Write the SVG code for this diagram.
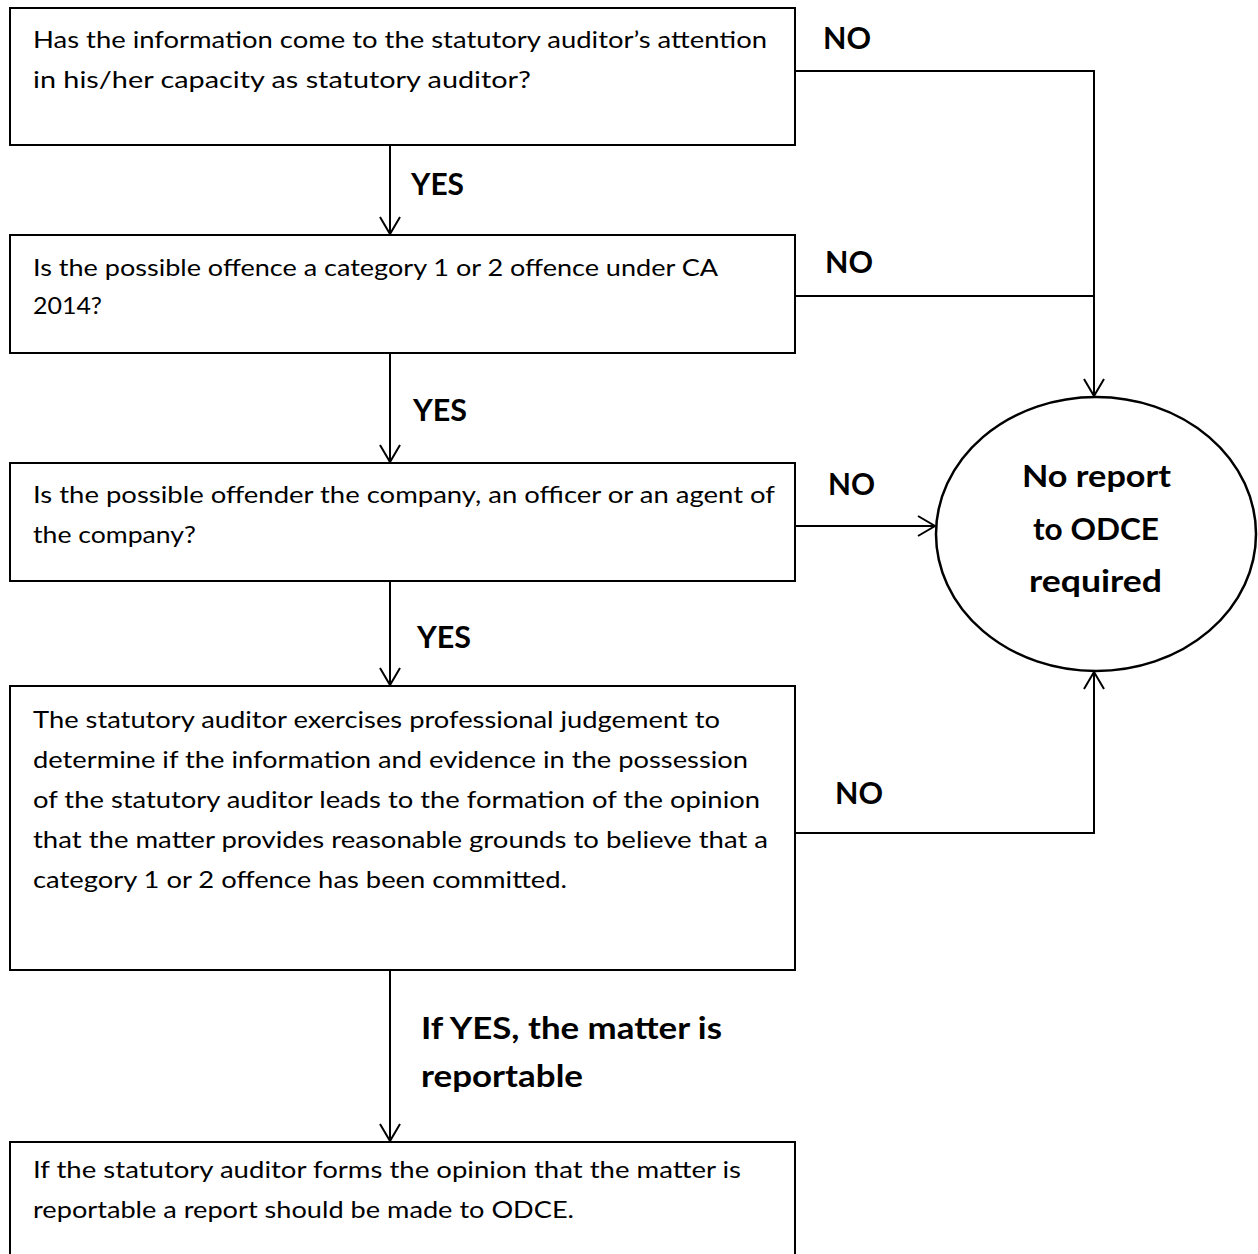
<svg xmlns="http://www.w3.org/2000/svg" width="1258" height="1254" viewBox="0 0 1258 1254">
<style>
.box{fill:#fff;stroke:#000;stroke-width:2}
.ell{fill:#fff;stroke:#000;stroke-width:2.5}
.t{font-family:Lato,"Liberation Sans",sans-serif;font-size:24px;fill:#000}
.b{font-family:Lato,"Liberation Sans",sans-serif;font-size:31px;font-weight:bold;fill:#000}
.c{fill:none;stroke:#000;stroke-width:2}
</style>
<defs>
<marker id="ah" markerWidth="24" markerHeight="24" refX="18" refY="11" orient="auto" markerUnits="userSpaceOnUse">
<path d="M1,1 L18,11 L1,21" fill="none" stroke="#000" stroke-width="2"/>
</marker>
</defs>
<rect width="1258" height="1254" fill="#fff"/>
<g id="connectors">
<path class="c" d="M390,145 V234" marker-end="url(#ah)"/>
<path class="c" d="M390,353 V462" marker-end="url(#ah)"/>
<path class="c" d="M390,581 V685" marker-end="url(#ah)"/>
<path class="c" d="M390,970 V1141" marker-end="url(#ah)"/>
<path class="c" d="M795,71 H1094 V396" marker-end="url(#ah)"/>
<path class="c" d="M795,296 H1094"/>
<path class="c" d="M795,526 H935" marker-end="url(#ah)"/>
<path class="c" d="M795,833 H1094 V672" marker-end="url(#ah)"/>
<text class="b" x="823" y="49" textLength="48" lengthAdjust="spacingAndGlyphs">NO</text>
<text class="b" x="825" y="273" textLength="48" lengthAdjust="spacingAndGlyphs">NO</text>
<text class="b" x="828" y="495" textLength="47" lengthAdjust="spacingAndGlyphs">NO</text>
<text class="b" x="835" y="804" textLength="48" lengthAdjust="spacingAndGlyphs">NO</text>
<text class="b" x="411" y="195" textLength="53" lengthAdjust="spacingAndGlyphs">YES</text>
<text class="b" x="413" y="421" textLength="54" lengthAdjust="spacingAndGlyphs">YES</text>
<text class="b" x="417" y="648" textLength="54" lengthAdjust="spacingAndGlyphs">YES</text>
<text class="b" x="421" y="1039" textLength="301" lengthAdjust="spacingAndGlyphs">If YES, the matter is</text>
<text class="b" x="421" y="1087" textLength="162" lengthAdjust="spacingAndGlyphs">reportable</text>
</g>
<g id="q1">
<rect class="box" x="10" y="8" width="785" height="137"/>
<text class="t" x="33" y="48" textLength="734" lengthAdjust="spacingAndGlyphs">Has the information come to the statutory auditor’s attention</text>
<text class="t" x="33" y="88" textLength="498" lengthAdjust="spacingAndGlyphs">in his/her capacity as statutory auditor?</text>
</g>
<g id="q2">
<rect class="box" x="10" y="235" width="785" height="118"/>
<text class="t" x="33" y="276" textLength="685" lengthAdjust="spacingAndGlyphs">Is the possible offence a category 1 or 2 offence under CA</text>
<text class="t" x="33" y="314" textLength="69" lengthAdjust="spacingAndGlyphs">2014?</text>
</g>
<g id="q3">
<rect class="box" x="10" y="463" width="785" height="118"/>
<text class="t" x="33" y="503" textLength="742" lengthAdjust="spacingAndGlyphs">Is the possible offender the company, an officer or an agent of</text>
<text class="t" x="33" y="543" textLength="163" lengthAdjust="spacingAndGlyphs">the company?</text>
</g>
<g id="q4">
<rect class="box" x="10" y="686" width="785" height="284"/>
<text class="t" x="33" y="728" textLength="687" lengthAdjust="spacingAndGlyphs">The statutory auditor exercises professional judgement to</text>
<text class="t" x="33" y="768" textLength="715" lengthAdjust="spacingAndGlyphs">determine if the information and evidence in the possession</text>
<text class="t" x="33" y="808" textLength="727" lengthAdjust="spacingAndGlyphs">of the statutory auditor leads to the formation of the opinion</text>
<text class="t" x="33" y="848" textLength="735" lengthAdjust="spacingAndGlyphs">that the matter provides reasonable grounds to believe that a</text>
<text class="t" x="33" y="888" textLength="534" lengthAdjust="spacingAndGlyphs">category 1 or 2 offence has been committed.</text>
</g>
<g id="result">
<rect class="box" x="10" y="1142" width="785" height="130"/>
<text class="t" x="33" y="1178" textLength="708" lengthAdjust="spacingAndGlyphs">If the statutory auditor forms the opinion that the matter is</text>
<text class="t" x="33" y="1218" textLength="541" lengthAdjust="spacingAndGlyphs">reportable a report should be made to ODCE.</text>
</g>
<g id="noreport">
<ellipse class="ell" cx="1096" cy="534" rx="160" ry="137"/>
<text class="b" x="1022" y="487" textLength="149" lengthAdjust="spacingAndGlyphs">No report</text>
<text class="b" x="1033" y="540" textLength="126" lengthAdjust="spacingAndGlyphs">to ODCE</text>
<text class="b" x="1029" y="592" textLength="133" lengthAdjust="spacingAndGlyphs">required</text>
</g>
</svg>
